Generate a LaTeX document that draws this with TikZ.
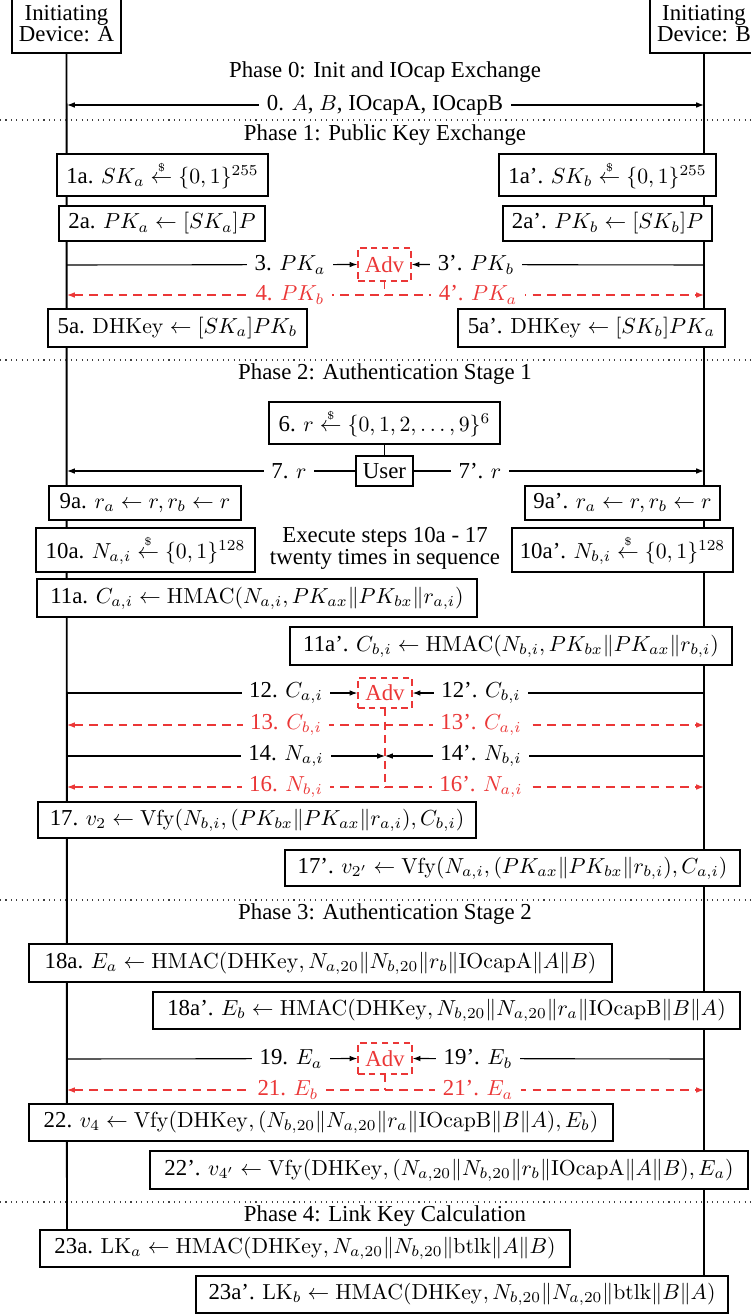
\documentclass[tikz,border=0pt]{standalone}
\usepackage[no-math]{fontspec}
\setmainfont{Liberation Serif}[Scale=1.05]
\usetikzlibrary{arrows.meta}
\definecolor{advred}{RGB}{235,55,55}
\def\pxu{0.46pt}
\newcommand\rnd{\stackrel{\scriptscriptstyle\$}{\leftarrow}}
\tikzset{
  box/.style={draw, line width=0.6pt, fill=white, inner sep=0pt, align=center},
  sz/.style 2 args={minimum width={#1*\pxu}, minimum height={#2*\pxu}},
  lbl/.style={fill=white, inner xsep=3.5pt, inner ysep=1.5pt},
  life/.style={line width=0.9pt},
  tipA/.tip={Latex[length=3.6pt,width=2.6pt]},
  msg/.style={line width=0.5pt, -tipA},
  bimsg/.style={line width=0.5pt, tipA-tipA},
  redmsg/.style={advred, line width=0.5pt, tipA-tipA, dash pattern=on 4pt off 2.8pt},
  redv/.style={advred, line width=0.7pt, dash pattern=on 3.6pt off 2.4pt},
  advbox/.style={draw=advred, text=advred, dash pattern=on 3pt off 2pt, line width=0.6pt, fill=white, inner sep=0pt},
  sep/.style={dotted, line width=0.5pt, black!75},
  phase/.style={inner sep=0pt},
}
\begin{document}
\begin{tikzpicture}[x=0.46pt, y=-0.46pt]
\useasboundingbox (0,0) rectangle (751,1316);
% device boxes
\node[box, sz={109}{59}] (devA) at (66.5,23.5) {Initiating\\[-2pt]Device: A};
\node[box, sz={108}{59}] (devB) at (704,23.5) {Initiating\\[-2pt]Device: B};
\coordinate (endA) at (67,1230);
\coordinate (endB) at (704,1276);
\draw[life] (devA.south) -- (endA);
\draw[life] (devB.south) -- (endB);
% separators
\foreach \yy/\nm in {120/s1,360/s2,900/s3,1202/s4}{
  \coordinate (\nm L) at (0,\yy); \coordinate (\nm R) at (751,\yy);
  \draw[sep] (\nm L) -- (\nm R);
}
% Phase 0
\node[phase] (ph0) at (385,72) {Phase 0: Init and IOcap Exchange};
\coordinate (A0) at (67,105); \coordinate (B0) at (704,105);
\draw[bimsg] (A0) -- (B0);
\node[lbl] (l0) at (385,105) {0. $A$, $B$, IOcapA, IOcapB};
% Phase 1
\node[phase] (ph1) at (385,135) {Phase 1: Public Key Exchange};
\node[box, sz={211}{42}] (b1a) at (162.5,175) {1a. $SK_a \rnd \{0,1\}^{255}$};
\node[box, sz={217}{42}] (b1ap) at (607.5,175) {1a'. $SK_b \rnd \{0,1\}^{255}$};
\node[box, sz={206}{35}] (b2a) at (162,223.5) {2a. $PK_a \leftarrow [SK_a]P$};
\node[box, sz={209}{35}] (b2ap) at (607.5,223.5) {2a'. $PK_b \leftarrow [SK_b]P$};
\node[advbox, sz={53}{33}] (adv1) at (384.5,264.5) {Adv};
\coordinate (A3) at (67,265); \coordinate (B3) at (704,265);
\draw[msg] (A3) -- (adv1.west);
\draw[msg] (B3) -- (adv1.east);
\node[lbl] (l3) at (290,265) {3. $PK_a$};
\node[lbl] (l3p) at (476,265) {3'. $PK_b$};
\coordinate (A4) at (67,295); \coordinate (B4) at (704,295); \coordinate (M4) at (384.5,295);
\draw[redmsg] (A4) -- (B4);
\draw[redv] (adv1.south) -- (M4);
\node[lbl, text=advred] (l4) at (290,295) {4. $PK_b$};
\node[lbl, text=advred] (l4p) at (478,295) {4'. $PK_a$};
\node[box, sz={259}{38}] (b5a) at (177.5,328) {5a. $\mathrm{DHKey} \leftarrow [SK_a]PK_b$};
\node[box, sz={267}{38}] (b5ap) at (591.5,328) {5a'. $\mathrm{DHKey} \leftarrow [SK_b]PK_a$};
% Phase 2
\node[phase] (ph2) at (385,374) {Phase 2: Authentication Stage 1};
\node[box, sz={231}{42}] (b6) at (384.5,423) {6. $r \rnd \{0,1,2,\ldots,9\}^6$};
\node[box, sz={57}{30}] (user) at (384.5,471) {User};
\draw[line width=0.9pt] (b6.south) -- (user.north);
\coordinate (A7) at (67,471); \coordinate (B7) at (704,471);
\draw[msg] (user.west) -- (A7);
\draw[msg] (user.east) -- (B7);
\node[lbl] (l7) at (289,471) {7. $r$};
\node[lbl] (l7p) at (480,471) {7'. $r$};
\node[box, sz={192}{34}] (b9a) at (145,503) {9a. $r_a \leftarrow r, r_b \leftarrow r$};
\node[box, sz={195}{34}] (b9ap) at (622.5,503) {9a'. $r_a \leftarrow r, r_b \leftarrow r$};
\node[box, sz={219}{44}] (b10a) at (145.5,550) {10a. $N_{a,i} \rnd \{0,1\}^{128}$};
\node[box, sz={221}{44}] (b10ap) at (622.5,550) {10a'. $N_{b,i} \rnd \{0,1\}^{128}$};
\node[phase, align=center] (exec) at (385,548) {Execute steps 10a - 17\\[-2pt]twenty times in sequence};
\node[box, sz={440}{38}] (b11a) at (257,598) {11a. $C_{a,i} \leftarrow \mathrm{HMAC}(N_{a,i}, PK_{ax}\|PK_{bx}\|r_{a,i})$};
\node[box, sz={442}{38}] (b11ap) at (511,646) {11a'. $C_{b,i} \leftarrow \mathrm{HMAC}(N_{b,i}, PK_{bx}\|PK_{ax}\|r_{b,i})$};
\node[advbox, sz={54}{30}] (adv2) at (385,693) {Adv};
\coordinate (A12) at (67,693); \coordinate (B12) at (704,693);
\draw[msg] (A12) -- (adv2.west);
\draw[msg] (B12) -- (adv2.east);
\node[lbl] (l12) at (286,693) {12. $C_{a,i}$};
\node[lbl] (l12p) at (481,693) {12'. $C_{b,i}$};
\coordinate (A13) at (67,725); \coordinate (B13) at (704,725);
\draw[redmsg] (A13) -- (B13);
\node[lbl, text=advred] (l13) at (286,725) {13. $C_{b,i}$};
\node[lbl, text=advred] (l13p) at (481,725) {13'. $C_{a,i}$};
\coordinate (A14) at (67,756); \coordinate (B14) at (704,756); \coordinate (M14) at (385,756);
\draw[msg] (A14) -- (M14);
\draw[msg] (B14) -- (M14);
\node[lbl] (l14) at (286,756) {14. $N_{a,i}$};
\node[lbl] (l14p) at (481,756) {14'. $N_{b,i}$};
\coordinate (A16) at (67,787); \coordinate (B16) at (704,787); \coordinate (M16) at (385,787);
\draw[redmsg] (A16) -- (B16);
\draw[redv] (adv2.south) -- (M16);
\node[lbl, text=advred] (l16) at (286,787) {16. $N_{b,i}$};
\node[lbl, text=advred] (l16p) at (481,787) {16'. $N_{a,i}$};
\node[box, sz={438}{36}] (b17) at (257,820) {17. $v_2 \leftarrow \mathrm{Vfy}(N_{b,i}, (PK_{bx}\|PK_{ax}\|r_{a,i}), C_{b,i})$};
\node[box, sz={455}{36}] (b17p) at (512.5,868) {17'. $v_{2'} \leftarrow \mathrm{Vfy}(N_{a,i}, (PK_{ax}\|PK_{bx}\|r_{b,i}), C_{a,i})$};
% Phase 3
\node[phase] (ph3) at (385,914) {Phase 3: Authentication Stage 2};
\node[box, sz={583}{38}] (b18a) at (320.5,963) {18a. $E_a \leftarrow \mathrm{HMAC}(\mathrm{DHKey}, N_{a,20}\|N_{b,20}\|r_b\|\mathrm{IOcapA}\|A\|B)$};
\node[box, sz={587}{37}] (b18ap) at (446.5,1010.5) {18a'. $E_b \leftarrow \mathrm{HMAC}(\mathrm{DHKey}, N_{b,20}\|N_{a,20}\|r_a\|\mathrm{IOcapB}\|B\|A)$};
\node[advbox, sz={54}{31}] (adv3) at (385,1058.5) {Adv};
\coordinate (A19) at (67,1059); \coordinate (B19) at (704,1059);
\draw[msg] (A19) -- (adv3.west);
\draw[msg] (B19) -- (adv3.east);
\node[lbl] (l19) at (291,1059) {19. $E_a$};
\node[lbl] (l19p) at (478,1059) {19'. $E_b$};
\coordinate (A21) at (67,1090); \coordinate (B21) at (704,1090); \coordinate (M21) at (385,1090);
\draw[redmsg] (A21) -- (B21);
\draw[redv] (adv3.south) -- (M21);
\node[lbl, text=advred] (l21) at (288,1090) {21. $E_b$};
\node[lbl, text=advred] (l21p) at (478,1090) {21'. $E_a$};
\node[box, sz={584}{37}] (b22) at (321,1122.5) {22. $v_4 \leftarrow \mathrm{Vfy}(\mathrm{DHKey}, (N_{b,20}\|N_{a,20}\|r_a\|\mathrm{IOcapB}\|B\|A), E_b)$};
\node[box, sz={598}{38}] (b22p) at (449,1170) {22'. $v_{4'} \leftarrow \mathrm{Vfy}(\mathrm{DHKey}, (N_{a,20}\|N_{b,20}\|r_b\|\mathrm{IOcapA}\|A\|B), E_a)$};
% Phase 4
\node[phase] (ph4) at (385,1216) {Phase 4: Link Key Calculation};
\node[box, sz={530}{37}] (b23a) at (305,1248.5) {23a. $\mathrm{LK}_a \leftarrow \mathrm{HMAC}(\mathrm{DHKey}, N_{a,20}\|N_{b,20}\|\mathrm{btlk}\|A\|B)$};
\node[box, sz={532}{37}] (b23ap) at (462,1294.5) {23a'. $\mathrm{LK}_b \leftarrow \mathrm{HMAC}(\mathrm{DHKey}, N_{b,20}\|N_{a,20}\|\mathrm{btlk}\|B\|A)$};
\end{tikzpicture}
\end{document}
